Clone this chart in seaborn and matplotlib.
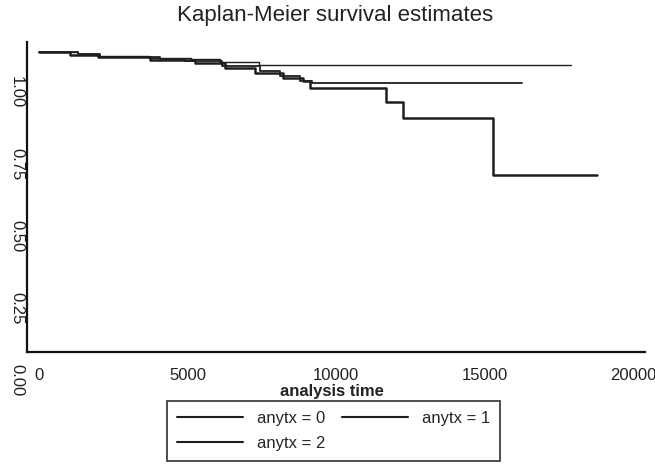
import matplotlib
matplotlib.use("Agg")
import matplotlib.pyplot as plt
from matplotlib.transforms import ScaledTranslation
import seaborn as sns
import pandas as pd

# step points: (analysis time, survival)
time_0 = [0, 1300, 2000, 3700, 5100, 6100, 7400, 17900]
surv_0 = [1.000, 0.993, 0.986, 0.979, 0.976, 0.965, 0.955, 0.955]

time_1 = [0, 1300, 2040, 4070, 4910, 6150, 7440, 8110, 8780, 9190, 16260]
surv_1 = [1.000, 0.993, 0.983, 0.976, 0.969, 0.951, 0.934, 0.917, 0.899, 0.892, 0.892]

time_2 = [0, 1030, 1980, 3730, 5250, 6260, 7270, 8210, 8880, 9120, 11680, 12250, 15290, 18790]
surv_2 = [1.000, 0.990, 0.983, 0.972, 0.962, 0.944, 0.927, 0.910, 0.899, 0.875, 0.826, 0.769, 0.573, 0.573]

groups = ["anytx = 0", "anytx = 1", "anytx = 2"]
x_ticks = [0, 5000, 10000, 15000, 20000]
y_ticks = [0.0, 0.25, 0.5, 0.75, 1.0]
y_labels = ["0.00", "0.25", "0.50", "0.75", "1.00"]

sns.set_style("white")
plt.rcParams["font.family"] = ["Liberation Sans", "DejaVu Sans"]

fig = plt.figure(figsize=(6.55, 4.66), dpi=100)
ax = fig.add_axes([0.041, 0.245, 0.944, 0.665])

curves = [(time_0, surv_0, 1.0), (time_1, surv_1, 1.3), (time_2, surv_2, 1.8)]
for name, (t, s, lw) in zip(groups, curves):
    df = pd.DataFrame({"time": t, "survival": s})
    sns.lineplot(data=df, x="time", y="survival", ax=ax, color="#1e1e1e",
                 linewidth=lw, drawstyle="steps-post", estimator=None, label=name)

ax.set_xlim(-414, 20410)
ax.set_ylim(-0.042, 1.035)
ax.set_xticks(x_ticks)
ax.set_yticks(y_ticks)
ax.set_yticklabels(y_labels, rotation=-90, va="center")
ax.tick_params(axis="both", direction="out", length=5, width=1.2, color="#111111",
               labelsize=12, labelcolor="#222222")
ax.tick_params(axis="x", pad=7)
ax.tick_params(axis="y", pad=-3)
# the scanned y labels sit about 40 px below their ticks
for lab in ax.get_yticklabels():
    lab.set_transform(lab.get_transform() + ScaledTranslation(0, -0.40, fig.dpi_scale_trans))

for side in ["top", "right"]:
    ax.spines[side].set_visible(False)
for side in ["left", "bottom"]:
    ax.spines[side].set_linewidth(1.6)
    ax.spines[side].set_color("#111111")

ax.set_ylabel("")
ax.set_xlabel("analysis time", fontsize=12, fontweight="bold", color="#222222")
ax.xaxis.set_label_coords(0.494, -0.127)
ax.xaxis.label.set_va("center")

fig.text(0.511, 1 - 15 / 466, "Kaplan-Meier survival estimates",
         ha="center", va="center", fontsize=16, color="#222222")

handles, labels = ax.get_legend_handles_labels()
order = [0, 2, 1]
leg = ax.legend([handles[i] for i in order], [labels[i] for i in order],
                ncol=2, loc="upper center", bbox_to_anchor=(0.509, 1 - 401 / 466),
                bbox_transform=fig.transFigure, borderaxespad=0, fontsize=12,
                frameon=True, fancybox=False, edgecolor="#111111", handlelength=4,
                columnspacing=1.0, borderpad=0.6, labelspacing=0.6, handletextpad=0.8)
leg.get_frame().set_linewidth(1.3)
for line in leg.get_lines():
    line.set_linewidth(1.5)

fig.savefig("out.png", dpi=100)
